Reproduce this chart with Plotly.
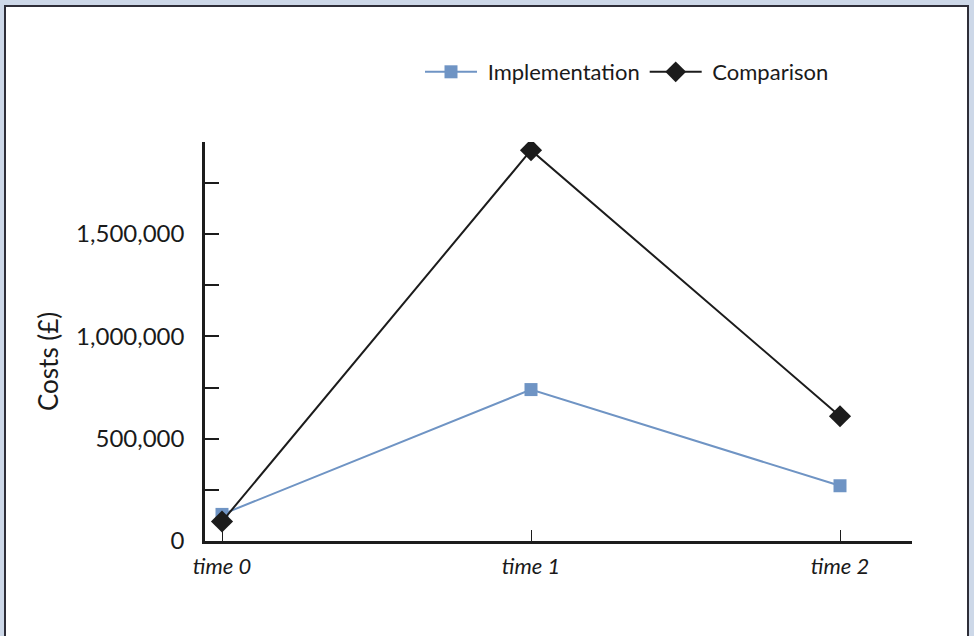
import plotly.graph_objects as go

# data
periods = ["time 0", "time 1", "time 2"]
implementation = [130000, 740000, 270000]
comparison = [95000, 1910000, 610000]

y_tickvals = [0, 500000, 1000000, 1500000]
y_ticktext = ["0", "500,000", "1,000,000", "1,500,000"]

BLUE = "#6f94c4"
BLACK = "#1c1c1c"
FONT = "Lato"

# plot area in pixels (974x636 canvas)
L, R, T, B = 205, 912, 142, 541
W, H = R - L, B - T


def px_x(x):
    return (x - L) / W


def px_y(y):
    return (B - y) / H


fig = go.Figure()

# leading nbsp gives the wider gap between legend symbol and label
fig.add_trace(go.Scatter(
    x=periods, y=implementation, name="\u00a0Implementation",
    mode="lines+markers",
    line=dict(color=BLUE, width=2),
    marker=dict(symbol="square", size=13, color=BLUE),
))
fig.add_trace(go.Scatter(
    x=periods, y=comparison, name="\u00a0Comparison",
    mode="lines+markers",
    line=dict(color=BLACK, width=2),
    marker=dict(symbol="diamond", size=17, color=BLACK),
))

# white card with dark edge on the blue-grey page
fig.add_shape(
    type="rect", xref="paper", yref="paper", layer="below",
    x0=px_x(5), x1=px_x(968), y0=px_y(650), y1=px_y(6),
    line=dict(color="#2e2e38", width=2), fillcolor="white",
)

# y axis title placed like the reference
fig.add_annotation(
    text="Costs (£)", textangle=-90, showarrow=False,
    xref="paper", yref="paper", x=px_x(48), y=px_y(362),
    xanchor="center", yanchor="middle",
    font=dict(family=FONT, size=26, color="#1a1a1a"),
)

fig.update_layout(
    width=974, height=636,
    margin=dict(l=L, r=974 - R, t=T, b=636 - B),
    paper_bgcolor="#cdd8e8",
    plot_bgcolor="rgba(0,0,0,0)",
    font=dict(family=FONT, color="#1a1a1a"),
    showlegend=True,
    legend=dict(
        orientation="h", x=px_x(420), y=px_y(72),
        xanchor="left", yanchor="middle",
        itemwidth=52,
        font=dict(family=FONT, size=22, color="#1a1a1a"),
        bgcolor="rgba(0,0,0,0)",
    ),
)

fig.update_xaxes(
    range=[-0.055, 2.233],
    showline=True, linecolor=BLACK, linewidth=2.5,
    ticks="inside", ticklen=11, tickcolor=BLACK, tickwidth=1,
    showgrid=False, zeroline=False,
    tickfont=dict(family=FONT, size=22, style="italic"),
    ticklabelstandoff=4,
)

fig.update_yaxes(
    range=[0, 1950000],
    tickvals=y_tickvals, ticktext=y_ticktext,
    showline=True, linecolor=BLACK, linewidth=2.5,
    ticks="inside", ticklen=14, tickcolor=BLACK, tickwidth=1.5,
    minor=dict(dtick=250000, ticks="inside", ticklen=14, tickcolor=BLACK, tickwidth=1.5),
    showgrid=False, zeroline=False,
    tickfont=dict(family=FONT, size=24),
    ticklabelstandoff=13,
)

fig.write_html(
    "out.html",
    config={"displayModeBar": False},
    post_script="document.body.style.margin='0';",
)
